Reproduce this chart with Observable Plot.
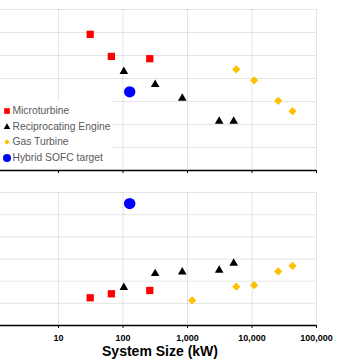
<!DOCTYPE html>
<html><head><meta charset="utf-8">
<script src="https://cdn.jsdelivr.net/npm/d3@7"></script>
<script src="https://cdn.jsdelivr.net/npm/@observablehq/plot@0.6"></script>
<style>
body{margin:0;background:#fff;}
#chart{position:relative;width:356px;height:364px;overflow:hidden;font-family:"Liberation Sans",Arial,sans-serif;}
#chart svg.plot, #chart > svg{display:block;}
#legend{position:absolute;left:0;top:101px;width:112px;height:67px;background:#fff;}
.row{position:absolute;left:0;width:112px;height:14px;}
.row svg{position:absolute;left:0;top:0;}
.row span{position:absolute;left:12.5px;top:0;line-height:14px;font-size:10.3px;color:#595959;white-space:nowrap;}
</style></head><body><div id="chart"></div>
<script>
// ---- data ----
const seriesNames = ["Microturbine", "Reciprocating Engine", "Gas Turbine", "Hybrid SOFC target"];
const microSize = [31, 66, 260];
const microTop = [2960, 2480, 2430];
const microBottom = [12.5, 14.3, 15.8];
const recipSize = [103, 315, 830, 3100, 5200];
const recipTop = [2150, 1870, 1570, 1070, 1070];
const recipBottom = [17.1, 23.4, 24.1, 24.9, 28.1];
const gasSize = [1180, 5700, 10800, 25500, 42500];
const gasTop = [null, 2200, 1960, 1515, 1290];
const gasBottom = [11.3, 17.5, 18.2, 24.4, 26.9];
const sofcSize = [127];
const sofcTop = [1710];
const sofcBottom = [55];
const xTicks = [10, 100, 1000, 10000, 100000];
const topTicks = [0, 500, 1000, 1500, 2000, 2500, 3000, 3500];
const bottomTicks = [0, 10, 20, 30, 40, 50, 60];
const xTitle = "System Size (kW)";

// ---- styles ----
const styles = [
  {color: "#ff0000", symbol: "square", r: 4.1, legendSize: 32},
  {color: "#000000", symbol: "triangle", r: 3.2, legendSize: 19},
  {color: "#ffc000", symbol: "diamond2", r: 3.7, legendSize: 18},
  {color: "#0000ff", symbol: "circle", r: 5.7, legendSize: 50}
];

const series = [
  {size: microSize, top: microTop, bottom: microBottom},
  {size: recipSize, top: recipTop, bottom: recipBottom},
  {size: gasSize, top: gasTop, bottom: gasBottom},
  {size: sofcSize, top: sofcTop, bottom: sofcBottom}
].map((s, i) => s.size.map((x, j) => ({name: seriesNames[i], size: x, top: s.top[j], bottom: s.bottom[j]})));

const xScale = (extra) => Object.assign({
  type: "log", domain: [1, 100000], range: [-6.5, 316], ticks: xTicks,
  grid: true, tickSize: 3, label: null
}, extra);

function dots(key) {
  return series.map((rows, i) => Plot.dot(rows.filter(d => d[key] != null), {
    x: "size", y: key, symbol: () => styles[i].symbol, r: styles[i].r,
    fill: styles[i].color, stroke: "none"
  }));
}

const topPlot = Plot.plot({
  width: 356, height: 174,
  marginTop: 9, marginBottom: 4, marginLeft: 0, marginRight: 40,
  style: {fontFamily: "Liberation Sans, Arial, sans-serif", fontSize: "9px", color: "#000", background: "#fff", overflow: "hidden"},
  x: xScale({tickFormat: () => ""}),
  y: {domain: [0, 3500], ticks: topTicks, grid: true, tickSize: 0, tickFormat: () => "", label: null},
  symbol: {type: "identity"},
  marks: [
    ...dots("top"),
    Plot.ruleY([0], {stroke: "#000", strokeWidth: 1.4})
  ]
});

const bottomPlot = Plot.plot({
  width: 356, height: 190,
  marginTop: 18, marginBottom: 39, marginLeft: 0, marginRight: 40,
  style: {fontFamily: "Liberation Sans, Arial, sans-serif", fontSize: "9px", fontWeight: "bold", color: "#000", background: "#fff", overflow: "hidden"},
  x: xScale({tickFormat: d3.format(","), tickPadding: 6}),
  y: {domain: [0, 60], ticks: bottomTicks, grid: true, tickSize: 0, tickFormat: () => "", label: null},
  symbol: {type: "identity"},
  marks: [
    ...dots("bottom"),
    Plot.ruleY([0], {stroke: "#000", strokeWidth: 1.4}),
    Plot.text([xTitle], {frameAnchor: "bottom", text: d => d, dy: 26, dx: 1.5, lineAnchor: "middle",
      fontSize: 14, fontWeight: "bold", fill: "#000"})
  ]
});

const chart = document.getElementById("chart");
chart.appendChild(topPlot);
chart.appendChild(bottomPlot);

// ---- legend ----
const legend = d3.select(chart).append("div").attr("id", "legend");
const rowCenters = [10.3, 25.7, 40.7, 57];
seriesNames.forEach((name, i) => {
  const row = legend.append("div").attr("class", "row").style("top", (rowCenters[i] - 7) + "px");
  const svg = row.append("svg").attr("width", 14).attr("height", 14);
  const symType = {square: d3.symbolSquare, triangle: d3.symbolTriangle, diamond2: d3.symbolDiamond2, circle: d3.symbolCircle}[styles[i].symbol];
  svg.append("path")
    .attr("transform", "translate(7,7)")
    .attr("d", d3.symbol(symType, styles[i].legendSize)())
    .attr("fill", styles[i].color);
  row.append("span").text(name);
});
</script></body></html>
